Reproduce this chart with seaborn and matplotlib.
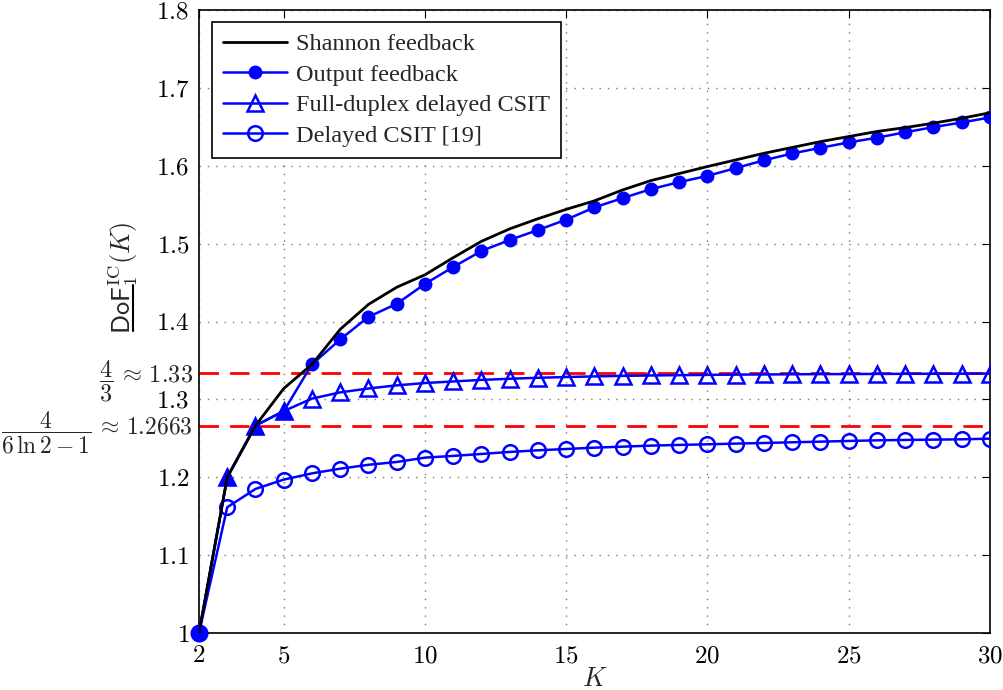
import numpy as np
import pandas as pd
import seaborn as sns
import matplotlib.pyplot as plt
from matplotlib.lines import Line2D
from matplotlib.transforms import blended_transform_factory

# data
K = list(range(2, 31))
shannon = [1.0, 1.2, 1.2663, 1.314, 1.345, 1.39, 1.422, 1.444, 1.460, 1.482,
           1.503, 1.519, 1.532, 1.544, 1.555, 1.569, 1.581, 1.590, 1.599, 1.6075,
           1.616, 1.6235, 1.631, 1.6375, 1.644, 1.649, 1.6547, 1.661, 1.668]
output_fb = [1.0, 1.2, 1.2663, 1.285, 1.345, 1.377, 1.406, 1.4227, 1.4483, 1.470,
             1.4906, 1.5047, 1.5175, 1.5308, 1.5466, 1.5585, 1.570, 1.579, 1.587, 1.597,
             1.607, 1.6158, 1.623, 1.630, 1.636, 1.643, 1.6496, 1.6556, 1.662]
full_duplex = [1.0, 1.2, 1.2663, 1.285, 1.301, 1.309, 1.314, 1.318, 1.321, 1.323,
               1.325, 1.3265, 1.3277, 1.3287, 1.3295, 1.3302, 1.3307, 1.3311, 1.3315, 1.3318,
               1.332, 1.3322, 1.3324, 1.3325, 1.3327, 1.3328, 1.3329, 1.333, 1.3331]
delayed = [1.0, 1.1615, 1.185, 1.197, 1.205, 1.211, 1.216, 1.2196, 1.2252, 1.2274,
           1.2299, 1.2325, 1.2346, 1.2363, 1.238, 1.2393, 1.2406, 1.2415, 1.2423, 1.2432,
           1.244, 1.2449, 1.2457, 1.2466, 1.2474, 1.2479, 1.2483, 1.2487, 1.2496]
bound_43 = 4 / 3
bound_ln = 4 / (6 * np.log(2) - 1)

df = pd.DataFrame({'K': K, 'shannon': shannon, 'output': output_fb,
                   'duplex': full_duplex, 'delayed': delayed})

sns.set_style('white')
plt.rcParams['font.family'] = ['Liberation Serif', 'DejaVu Serif']
plt.rcParams['mathtext.fontset'] = 'cm'

fig = plt.figure(figsize=(10.04, 6.9), dpi=100)
ax = fig.add_axes([199 / 1004, 1 - 633 / 690, 791 / 1004, 623 / 690])

blue = '#0000ff'
lw_b = 1.8

# red reference lines
ax.axhline(bound_43, color='#ff0000', lw=2.0, dashes=(7, 4), zorder=2)
ax.axhline(bound_ln, color='#ff0000', lw=2.0, dashes=(7, 4), zorder=2)

# delayed CSIT
sns.lineplot(data=df, x='K', y='delayed', ax=ax, color=blue, lw=lw_b,
             marker='o', markersize=10.5, markerfacecolor='none',
             markeredgecolor=blue, markeredgewidth=1.8, zorder=3)
# full-duplex delayed CSIT
sns.lineplot(data=df, x='K', y='duplex', ax=ax, color=blue, lw=lw_b,
             marker='^', markersize=12, markerfacecolor='none',
             markeredgecolor=blue, markeredgewidth=1.8, zorder=3)
# output feedback: filled triangles up to K=5, dots afterwards
dot_idx = [i for i, k in enumerate(K) if k >= 6]
tri_idx = [i for i, k in enumerate(K) if k <= 5]
sns.lineplot(data=df, x='K', y='output', ax=ax, color=blue, lw=lw_b,
             marker='o', markersize=9, markevery=dot_idx, markerfacecolor=blue,
             markeredgecolor=blue, markeredgewidth=1, zorder=4)
sns.lineplot(data=df.iloc[tri_idx], x='K', y='output', ax=ax, color=blue, lw=0,
             marker='^', markersize=12, markerfacecolor=blue,
             markeredgecolor=blue, markeredgewidth=1, zorder=4)
ax.plot(df['K'].iloc[:1], df['output'].iloc[:1], 'o', color=blue, ms=12,
        zorder=4, clip_on=False)
# Shannon feedback
sns.lineplot(data=df, x='K', y='shannon', ax=ax, color='black', lw=2.0, zorder=5)

ax.set_xlim(2, 30)
ax.set_ylim(1, 1.8)
xt = [2, 5, 10, 15, 20, 25, 30]
ax.set_xticks(xt)
ax.set_xticklabels([f'${v}$' for v in xt], fontsize=18)
yt = [1, 1.1, 1.2, 1.3, 1.4, 1.5, 1.6, 1.7, 1.8]
ax.set_yticks(yt)
ax.set_yticklabels(['$1$'] + [f'${v:.1f}$' for v in yt[1:]], fontsize=18)
ax.tick_params(direction='in', top=True, right=True, length=6, width=0.8,
               colors='black')
ax.tick_params(axis='x', pad=9)
ax.tick_params(axis='y', pad=7)
ax.grid(True, color='#777777', linestyle=(0, (1, 5)), lw=1.0)
for s in ax.spines.values():
    s.set_color('black')
    s.set_linewidth(1.2)

ax.set_xlabel('$K$', fontsize=19, labelpad=0)
ax.set_ylabel(r'$\mathsf{DoF}_1^{\mathrm{IC}}(K)$', fontsize=19)
ax.yaxis.set_label_coords((140 - 199) / 791, (633 - 278) / 623)
# underline of DoF in the y label
fig.add_artist(Line2D([133 / 1004] * 2, [1 - 285 / 690, 1 - 331 / 690],
                      color='black', lw=1.5))

# labels of the two bounds: value next to the axis, fraction to its left
tr = blended_transform_factory(ax.transAxes, ax.transData)
t43 = ax.text(-0.008, bound_43, r'$\approx\,1.33$', transform=tr,
              ha='right', va='center_baseline', fontsize=17.5)
ax.annotate(r'$\dfrac{4}{3}$', xy=(0, 0.5), xycoords=t43, xytext=(-3, -3.5),
            textcoords='offset points', ha='right', va='center', fontsize=17.5)
tln = ax.text(-0.008, bound_ln, r'$\approx\,1.2663$', transform=tr,
              ha='right', va='center_baseline', fontsize=17)
ax.annotate(r'$\dfrac{4}{6\,\ln 2-1}$', xy=(0, 0.5), xycoords=tln, xytext=(-3, -3.5),
            textcoords='offset points', ha='right', va='center', fontsize=17)

handles = [
    Line2D([], [], color='black', lw=2.0),
    Line2D([], [], color=blue, lw=lw_b, marker='o', ms=9),
    Line2D([], [], color=blue, lw=lw_b, marker='^', ms=12, mfc='none', mew=1.8),
    Line2D([], [], color=blue, lw=lw_b, marker='o', ms=10.5, mfc='none', mew=1.8),
]
labels = ['Shannon feedback', 'Output feedback', 'Full-duplex delayed CSIT',
          'Delayed CSIT [19]']
leg = ax.legend(handles, labels, loc='upper left', bbox_to_anchor=(0.017, 0.98),
                fontsize=17.5, frameon=True, fancybox=False, edgecolor='black',
                framealpha=1, handlelength=2.6, borderpad=0.45, labelspacing=0.35,
                handletextpad=0.4, borderaxespad=0)
leg.get_frame().set_linewidth(1.2)

fig.savefig('out.png', dpi=100)
